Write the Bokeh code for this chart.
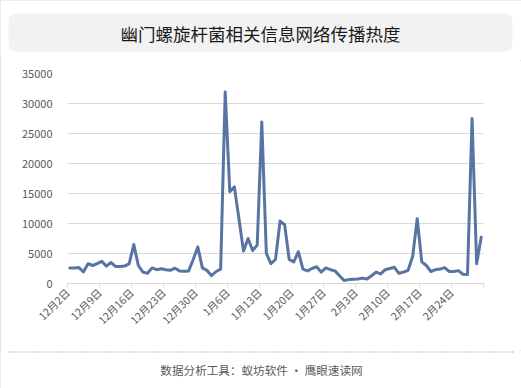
import math
from bokeh.plotting import figure
from bokeh.layouts import column
from bokeh.models import Range1d, FixedTicker
from bokeh.core.properties import value
from bokeh.embed import file_html
from bokeh.resources import INLINE

title_text = "幽门螺旋杆菌相关信息网络传播热度"
footer_text = "数据分析工具：蚁坊软件 · 鹰眼速读网"

# daily values, 12月2日 .. 3月2日 (91 days)
heat = [
    2600, 2600, 2650, 1950, 3300, 3000, 3300, 3700, 2900, 3500,
    2850, 2850, 2900, 3300, 6500, 3000, 1900, 1700, 2600, 2300,
    2450, 2300, 2200, 2550, 2100, 2050, 2100, 4000, 6100, 2600,
    2200, 1300, 2000, 2400, 31900, 15300, 16100, 10800, 5400, 7500,
    5500, 6400, 26900, 5000, 3300, 4000, 10400, 9800, 4000, 3600,
    5300, 2400, 2100, 2500, 2800, 1900, 2600, 2300, 2100, 1300,
    500, 650, 700, 750, 900, 750, 1300, 1900, 1600, 2300,
    2500, 2700, 1700, 1900, 2200, 4500, 10800, 3600, 3000, 2000,
    2300, 2400, 2650, 2000, 2000, 2150, 1550, 1500, 27500, 3300,
    7700,
]

tick_labels = ["12月2日", "12月9日", "12月16日", "12月23日", "12月30日", "1月6日",
               "1月13日", "1月20日", "1月27日", "2月3日", "2月10日", "2月17日", "2月24日"]
y_ticks = [0, 5000, 10000, 15000, 20000, 25000, 30000, 35000]

FONT = "Noto Sans CJK SC"
W = 521
TOP_H, MAIN_H, BOT_H = 60, 290, 38      # stacked heights (total 388)
FL, FR, FT, FB = 67, 483, 73, 283       # chart frame edges in page px

n = len(heat)
xs = [i + 0.5 for i in range(n)]


def deco_fig(h, y0):
    f = figure(width=W, height=h, output_backend="svg", toolbar_location=None,
               x_range=Range1d(0, W), y_range=Range1d(y0 + h, y0),
               x_axis_type=None, y_axis_type=None,
               min_border_left=0, min_border_right=0, min_border_top=0, min_border_bottom=0,
               frame_align=False)
    f.outline_line_color = None
    f.xgrid.visible = False
    f.ygrid.visible = False
    f.background_fill_color = "white"
    f.border_fill_color = "white"
    return f


# ---- title strip ----
top = deco_fig(TOP_H, 0)
top.quad(left=[8], right=[512], top=[13], bottom=[51], fill_color="#f2f2f2",
         line_color=None, border_radius=7)
top.text(x=[260], y=[32.5], text=[title_text], text_align="center", text_baseline="middle",
         text_font=value(FONT), text_font_size="17.5px", text_color="#1a1a1a")

# ---- chart ----
p = figure(width=W, height=MAIN_H, output_backend="svg", toolbar_location=None,
           x_range=Range1d(0, n), y_range=Range1d(0, 35000),
           min_border_left=FL, min_border_right=W - FR,
           min_border_top=FT - TOP_H, min_border_bottom=TOP_H + MAIN_H - FB,
           frame_align=False)
p.outline_line_color = None
p.background_fill_color = "white"
p.border_fill_color = "white"

x_tick_pos = [7 * k for k in range(len(tick_labels) + 1)]
p.xaxis.ticker = FixedTicker(ticks=x_tick_pos)
overrides = {x_tick_pos[k]: tick_labels[k] for k in range(len(tick_labels))}
overrides[x_tick_pos[-1]] = ""
p.xaxis.major_label_overrides = overrides
p.xaxis.major_label_orientation = math.pi / 4
p.xaxis.axis_line_color = "#d9d9d9"
p.xaxis.major_tick_line_color = "#d9d9d9"
p.xaxis.major_tick_out = 4
p.xaxis.major_tick_in = 0
p.xaxis.minor_tick_line_color = None
p.xaxis.major_label_text_font = FONT
p.xaxis.major_label_text_font_size = "10.5px"
p.xaxis.major_label_text_color = "#595959"
p.xaxis.major_label_standoff = 3
p.xgrid.grid_line_color = None

p.yaxis.ticker = FixedTicker(ticks=y_ticks)
p.yaxis.axis_line_color = None
p.yaxis.major_tick_line_color = None
p.yaxis.minor_tick_line_color = None
p.yaxis.major_label_text_font = FONT
p.yaxis.major_label_text_font_size = "11px"
p.yaxis.major_label_text_color = "#595959"
p.yaxis.major_label_standoff = 9
p.ygrid.grid_line_color = "#d9d9d9"
p.ygrid.ticker = FixedTicker(ticks=y_ticks[1:])

p.line(xs, heat, line_color="#5874a3", line_width=3, line_join="round", line_cap="round")

# ---- footer strip ----
y0 = TOP_H + MAIN_H
bot = deco_fig(BOT_H, y0)
bot.segment(x0=[8], y0=[351.5], x1=[513], y1=[351.5], line_color="#7f7f7f",
            line_width=1, line_dash="1 2")
bot.text(x=[261], y=[369], text=[footer_text], text_align="center", text_baseline="middle",
         text_font=value(FONT), text_font_size="11.6px", text_color="#595959")

layout = column(top, p, bot, spacing=0,
                styles={"outline": "1px solid #d9d9d9", "outline-offset": "-1px"})

open("out.html", "w").write(file_html(layout, INLINE))
